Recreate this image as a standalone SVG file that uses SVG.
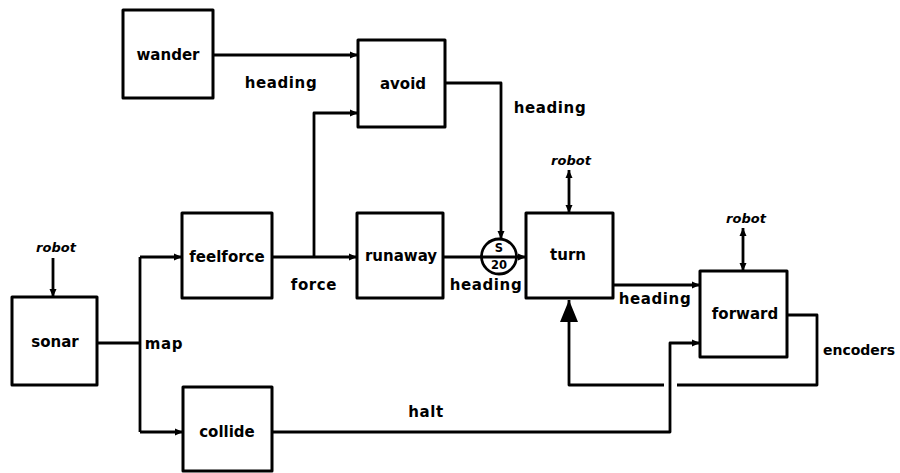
<svg xmlns="http://www.w3.org/2000/svg" width="900" height="473" viewBox="0 0 900 473">
  <style>
    .box { fill: #fff; stroke: #000; stroke-width: 3; stroke-linejoin: round; }
    .wire { fill: none; stroke: #000; stroke-width: 2.8; stroke-linejoin: round; }
    .lbl { font-family: "DejaVu Sans", "Liberation Sans", sans-serif; font-weight: bold; font-size: 15px; fill: #000; text-anchor: middle; }
    .edge { letter-spacing: 0.6px; }
    .rob { font-style: italic; font-size: 13px; }
    .small { font-size: 11.5px; }
  </style>
  <defs>
    <marker id="arr" markerWidth="8" markerHeight="8" refX="8" refY="4" orient="auto-start-reverse" markerUnits="userSpaceOnUse">
      <path d="M0,0.5 L8,4 L0,7.5 Z" fill="#000"/>
    </marker>
    <marker id="bigarr" markerWidth="22" markerHeight="18" refX="22" refY="9" orient="auto" markerUnits="userSpaceOnUse">
      <path d="M0,0 L22,9 L0,18 Z" fill="#000"/>
    </marker>
  </defs>

  <g id="connectors">
    <!-- wander -> avoid -->
    <path class="wire" d="M213,55 H358" marker-end="url(#arr)"/>
    <!-- force branch up into avoid -->
    <path class="wire" d="M314,257 V113 H358" marker-end="url(#arr)"/>
    <!-- feelforce -> runaway -->
    <path class="wire" d="M272,257 H357" marker-end="url(#arr)"/>
    <!-- avoid -> suppressor -->
    <path class="wire" d="M445,83 H501 V239" marker-end="url(#arr)"/>
    <!-- runaway -> suppressor -> turn -->
    <path class="wire" d="M443,257 H526" marker-end="url(#arr)"/>
    <!-- turn -> forward -->
    <path class="wire" d="M613,285 H700" marker-end="url(#arr)"/>
    <!-- sonar map fan-out -->
    <path class="wire" d="M97,343 H140"/>
    <path class="wire" d="M140,257 V432"/>
    <path class="wire" d="M140,257 H182" marker-end="url(#arr)"/>
    <path class="wire" d="M140,432 H183" marker-end="url(#arr)"/>
    <!-- collide halt -> forward -->
    <path class="wire" d="M272,432 H670 V343 H700" marker-end="url(#arr)"/>
    <!-- forward encoders -> turn, hopping the halt wire -->
    <path class="wire" d="M787,315 H817 V385 H677"/>
    <path class="wire" d="M664,385 H569 V300" marker-end="url(#bigarr)"/>
    <!-- robot links -->
    <path class="wire" d="M53,258 V297" marker-end="url(#arr)"/>
    <path class="wire" d="M569,170 V213" marker-start="url(#arr)" marker-end="url(#arr)"/>
    <path class="wire" d="M743,228 V271" marker-start="url(#arr)" marker-end="url(#arr)"/>
  </g>

  <g id="wander">
    <rect class="box" x="123" y="10" width="90" height="88"/>
    <text class="lbl" x="168" y="60">wander</text>
  </g>
  <g id="avoid">
    <rect class="box" x="358" y="40" width="87" height="87"/>
    <text class="lbl" x="403" y="89">avoid</text>
  </g>
  <g id="feelforce">
    <rect class="box" x="182" y="213" width="90" height="85"/>
    <text class="lbl" x="227" y="262">feelforce</text>
  </g>
  <g id="runaway">
    <rect class="box" x="357" y="213" width="86" height="85"/>
    <text class="lbl" x="401" y="261">runaway</text>
  </g>
  <g id="suppressor">
    <circle cx="499" cy="256.5" r="17.5" fill="none" stroke="#000" stroke-width="2.8"/>
    <text class="lbl small" x="499" y="252">S</text>
    <text class="lbl small" x="499" y="269">20</text>
  </g>
  <g id="turn">
    <rect class="box" x="526" y="213" width="87" height="85"/>
    <text class="lbl" x="568" y="260">turn</text>
  </g>
  <g id="forward">
    <rect class="box" x="700" y="271" width="87" height="86"/>
    <text class="lbl" x="745" y="319">forward</text>
  </g>
  <g id="sonar">
    <rect class="box" x="12" y="297" width="85" height="88"/>
    <text class="lbl" x="55" y="347">sonar</text>
  </g>
  <g id="collide">
    <rect class="box" x="183" y="387" width="89" height="84"/>
    <text class="lbl" x="227" y="437">collide</text>
  </g>

  <g id="labels">
    <text class="lbl edge" x="281" y="88">heading</text>
    <text class="lbl edge" x="550" y="113">heading</text>
    <text class="lbl edge" x="314" y="290">force</text>
    <text class="lbl edge" x="486" y="290">heading</text>
    <text class="lbl edge" x="655" y="304">heading</text>
    <text class="lbl edge" x="164" y="349">map</text>
    <text class="lbl" x="859" y="355" style="font-size:14px">encoders</text>
    <text class="lbl edge" x="426" y="417">halt</text>
    <text class="lbl rob" x="56" y="252">robot</text>
    <text class="lbl rob" x="571" y="165">robot</text>
    <text class="lbl rob" x="746" y="223">robot</text>
  </g>
</svg>
